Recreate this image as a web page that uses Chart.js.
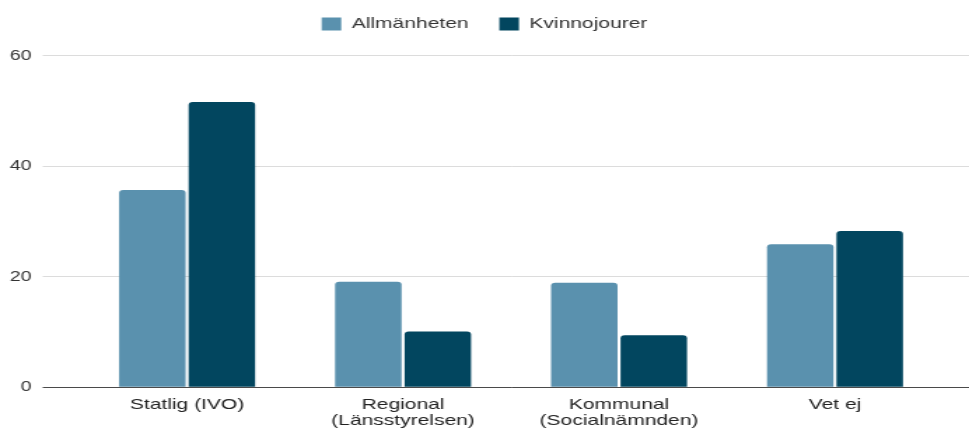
<!DOCTYPE html>
<html>
<head>
<meta charset="utf-8">
<script src="https://cdn.jsdelivr.net/npm/chart.js@4/dist/chart.umd.min.js"></script>
<style>
  html, body { margin: 0; padding: 0; background: #ffffff; overflow: hidden; }
  #wrap { width: 692px; height: 428px; transform: scaleX(1.40029); transform-origin: 0 0; }
</style>
</head>
<body>
<div id="wrap"><canvas id="c"></canvas></div>
<script>
const categories = [
  ['Statlig (IVO)'],
  ['Regional', '(Länsstyrelsen)'],
  ['Kommunal', '(Socialnämnden)'],
  ['Vet ej']
];
const seriesNames = ['Allmänheten', 'Kvinnojourer'];
const allmanheten = [35.7, 19.1, 18.9, 25.9];
const kvinnojourer = [51.6, 10.1, 9.4, 28.3];
const yTicks = { min: 0, max: 60, step: 20 };

const FONT = "'Liberation Sans', Arial, sans-serif";
const gridColor = ctx => (ctx.tick && ctx.tick.value === 0) ? '#4a4a4a' : '#dcdcdc';

const legendFix = {
  id: 'legendFix',
  beforeInit(chart) {
    const lg = chart.legend;
    if (lg && !lg._patched) {
      const origFit = lg.fit;
      lg.fit = function () {
        origFit.call(this);
        this.height = 61.2;
      };
      lg._patched = true;
    }
  }
};

new Chart(document.getElementById('c'), {
  type: 'bar',
  data: {
    labels: categories,
    datasets: [
      {
        label: seriesNames[0],
        data: allmanheten,
        backgroundColor: '#5a91ae',
        borderRadius: 3,
        borderSkipped: 'start',
        categoryPercentage: 0.6435,
        barPercentage: 0.957
      },
      {
        label: seriesNames[1],
        data: kvinnojourer,
        backgroundColor: '#02465f',
        borderRadius: 3,
        borderSkipped: 'start',
        categoryPercentage: 0.6435,
        barPercentage: 0.957
      }
    ]
  },
  options: {
    responsive: true,
    maintainAspectRatio: false,
    animation: false,
    layout: { padding: { top: -5.5, left: 0, right: 0, bottom: 0 } },
    plugins: {
      legend: {
        position: 'top',
        align: 'center',
        labels: {
          boxWidth: 14,
          boxHeight: 13,
          padding: 22,
          color: '#333333',
          font: { family: FONT, size: 15 }
        }
      },
      tooltip: { enabled: false }
    },
    scales: {
      x: {
        grid: { display: false, drawTicks: false },
        border: { display: false },
        ticks: {
          color: '#222222',
          padding: 9,
          maxRotation: 0,
          autoSkip: false,
          font: { family: FONT, size: 15, lineHeight: 1.1 }
        },
        afterFit(scale) { scale.height = 40.7; }
      },
      y: {
        position: 'left',
        min: yTicks.min,
        max: yTicks.max,
        border: { display: false },
        grid: { color: gridColor, lineWidth: 1, drawTicks: true, tickLength: 26 },
        ticks: {
          stepSize: yTicks.step,
          color: '#333333',
          padding: 8,
          font: { family: FONT, size: 14 }
        },
        afterFit(scale) { scale.width = 56.5; }
      },
      y2: {
        position: 'right',
        min: yTicks.min,
        max: yTicks.max,
        border: { display: false },
        grid: { color: gridColor, lineWidth: 1, drawOnChartArea: false, drawTicks: true, tickLength: 19 },
        ticks: { stepSize: yTicks.step, display: false },
        afterFit(scale) { scale.width = 18.6; }
      }
    }
  },
  plugins: [legendFix]
});
</script>
</body>
</html>
